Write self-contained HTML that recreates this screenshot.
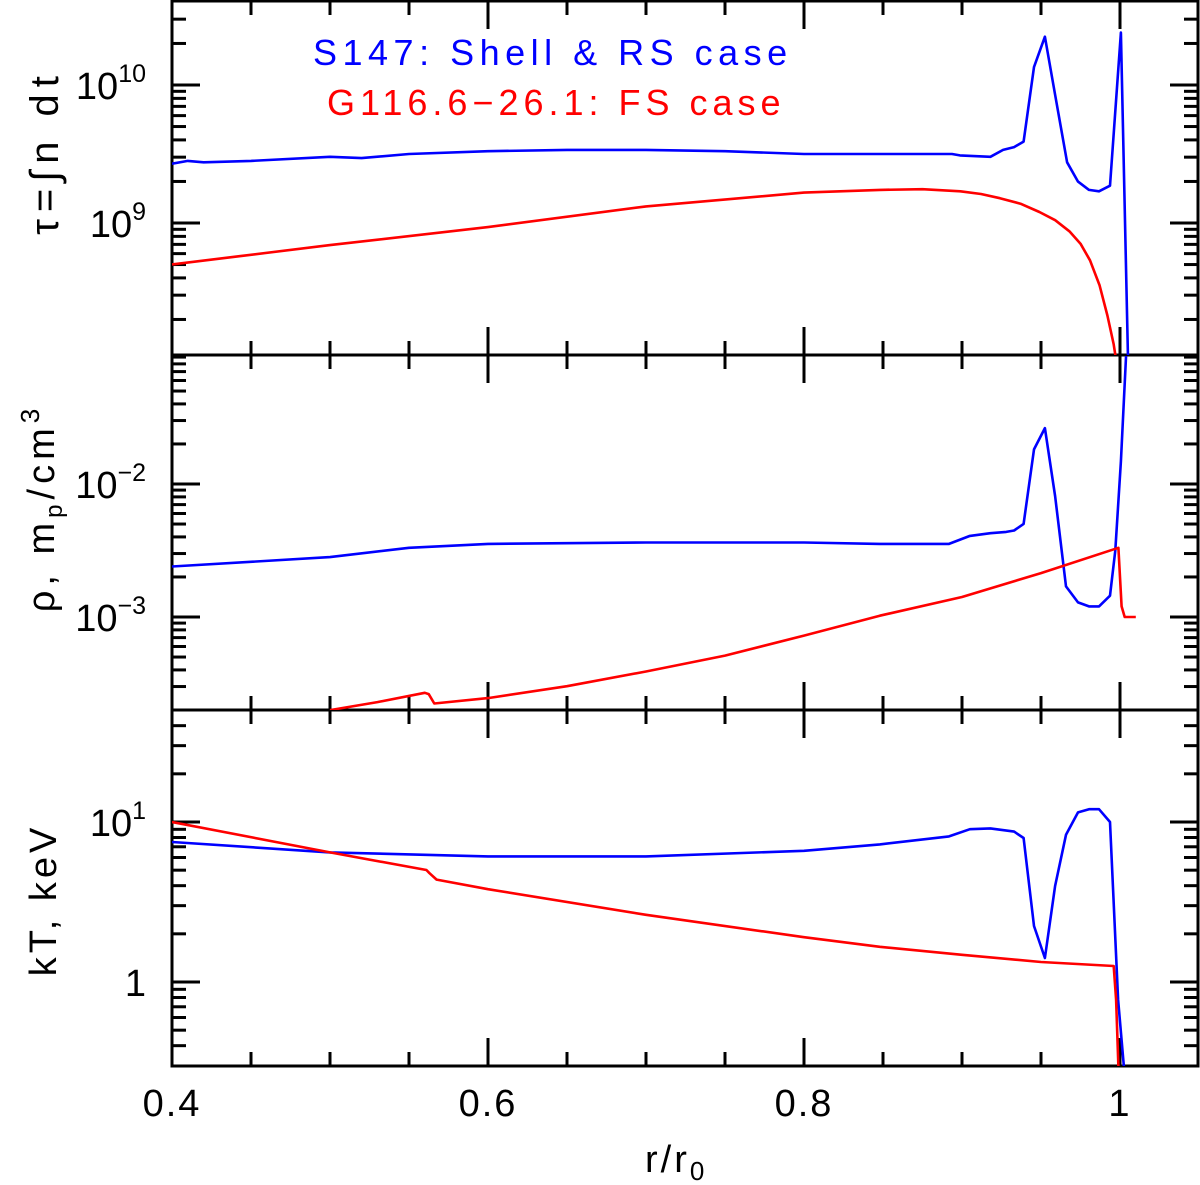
<!DOCTYPE html>
<html><head><meta charset="utf-8"><style>
body{margin:0;background:#fff}
svg{display:block;font-family:"Liberation Sans",sans-serif}
</style></head><body>
<svg id="chart" width="1200" height="1185" viewBox="0 0 1200 1185" xmlns="http://www.w3.org/2000/svg">
<defs>
<clipPath id="c0"><rect x="172" y="1" width="1026" height="354"/></clipPath>
<clipPath id="c1"><rect x="172" y="356" width="1026" height="354"/></clipPath>
<clipPath id="c2"><rect x="172" y="711" width="1026" height="355"/></clipPath>
</defs>
<g id="axes"></g>
<g id="series"></g>
<text x="313" y="65" font-size="36" fill="#0000ff" letter-spacing="5.5">S147: Shell &amp; RS case</text>
<text x="327" y="115" font-size="36" fill="#ff0000" letter-spacing="5">G116.6−26.1: FS case</text>
<text transform="translate(58,152) rotate(-90)" text-anchor="middle" font-size="40" letter-spacing="7">τ=∫n  dt</text>
<text transform="translate(54,508) rotate(-90)" text-anchor="middle" font-size="38" letter-spacing="5">ρ,  m<tspan font-size="24" dy="8">p</tspan><tspan dy="-8">/cm</tspan><tspan font-size="26" dy="-15">3</tspan></text>
<text transform="translate(56,900) rotate(-90)" text-anchor="middle" font-size="38" letter-spacing="4">kT,  keV</text>
<text x="645" y="1172" font-size="38" letter-spacing="3">r/r<tspan font-size="26" dy="8">0</tspan></text>
</svg>
<script>
const xTicksLabels = ["0.4","0.6","0.8","1"];
const xTickVals = [0.4,0.6,0.8,1.0];
// top panel: log10 tau
const tauBlueR = [0.4,0.41,0.42,0.45,0.5,0.52,0.55,0.6,0.65,0.7,0.75,0.8,0.85,0.8937,0.8987,0.918,0.926,0.933,0.939,0.9456,0.9525,0.9589,0.9665,0.9734,0.9804,0.9867,0.9937,1.0006,1.005,1.008];
const tauBlueV = [9.43,9.45,9.44,9.45,9.48,9.47,9.50,9.52,9.53,9.53,9.52,9.50,9.50,9.50,9.49,9.48,9.53,9.55,9.59,10.13,10.35,9.93,9.44,9.30,9.24,9.23,9.27,10.38,8.05,7.8];
const tauRedR = [0.4,0.5,0.6,0.7,0.8,0.848,0.875,0.899,0.912,0.924,0.937,0.949,0.959,0.968,0.975,0.981,0.987,0.992,0.996,0.999];
const tauRedV = [8.70,8.84,8.97,9.12,9.22,9.24,9.245,9.23,9.21,9.18,9.14,9.08,9.02,8.94,8.85,8.73,8.55,8.33,8.12,7.9];
// middle panel: log10 density
const rhoBlueR = [0.4,0.5,0.55,0.6,0.7,0.8,0.848,0.8918,0.905,0.918,0.928,0.933,0.939,0.9456,0.9525,0.9589,0.9658,0.9734,0.9804,0.9867,0.9937,0.997,1.0006,1.004];
const rhoBlueV = [-2.62,-2.55,-2.48,-2.45,-2.44,-2.44,-2.45,-2.45,-2.39,-2.37,-2.36,-2.35,-2.30,-1.74,-1.58,-2.09,-2.77,-2.89,-2.92,-2.92,-2.84,-2.50,-1.83,-1.0];
const rhoRedR = [0.5,0.53,0.56,0.5625,0.566,0.6,0.65,0.7,0.75,0.8,0.848,0.9,0.95,0.999,1.001,1.003,1.01];
const rhoRedV = [-3.70,-3.64,-3.57,-3.58,-3.65,-3.61,-3.52,-3.41,-3.29,-3.14,-2.99,-2.85,-2.67,-2.48,-2.92,-3.0,-3.0];
// bottom panel: log10 kT
const ktBlueR = [0.4,0.5,0.6,0.7,0.8,0.848,0.8918,0.905,0.918,0.933,0.939,0.9456,0.9525,0.9589,0.9658,0.9734,0.9804,0.9867,0.9937,0.9988,1.0025];
const ktBlueV = [0.875,0.81,0.785,0.785,0.82,0.86,0.91,0.955,0.96,0.94,0.90,0.35,0.15,0.60,0.92,1.06,1.08,1.08,1.0,-0.11,-0.53];
const ktRedR = [0.4,0.5,0.561,0.563,0.5675,0.6,0.7,0.8,0.848,0.9,0.95,0.996,0.9975,0.999];
const ktRedV = [1.0,0.81,0.70,0.68,0.64,0.58,0.42,0.28,0.22,0.17,0.125,0.10,-0.11,-0.53];

const NS="http://www.w3.org/2000/svg";
const X0=172, X1=1198;
function xs(r){return X0+(r-0.4)*1580;}
const panels=[
 {top:1,bot:355,ref:10,refY:85,ppd:138,lo:7,hi:11,labels:[[10,"10","10"],[9,"10","9"]],clip:"c0",name:"tau"},
 {top:355,bot:710,ref:-2,refY:484,ppd:133,lo:-4,hi:-1,labels:[[-2,"10","−2"],[-3,"10","−3"]],clip:"c1",name:"density"},
 {top:710,bot:1066,ref:1,refY:822,ppd:160,lo:-1,hi:2,labels:[[1,"10","1"],[0,"1",""]],clip:"c2",name:"kt"}
];
function ys(p,v){return p.refY-(v-p.ref)*p.ppd;}
const axes=document.getElementById('axes');
function line(x1,y1,x2,y2,name){
 const l=document.createElementNS(NS,'line');
 l.setAttribute('x1',x1);l.setAttribute('y1',y1);l.setAttribute('x2',x2);l.setAttribute('y2',y2);
 l.setAttribute('stroke','#000');l.setAttribute('stroke-width','3');
 
 
 axes.appendChild(l);
}
panels.forEach((p,pi)=>{
 const fr=document.createElementNS(NS,'rect');
 fr.setAttribute('x',X0);fr.setAttribute('y',p.top);fr.setAttribute('width',X1-X0);fr.setAttribute('height',p.bot-p.top);
 fr.setAttribute('fill','none');fr.setAttribute('stroke','#000');fr.setAttribute('stroke-width','3');
 
 
 axes.appendChild(fr);
 for(let k=0;k<=13;k++){
  const r=0.4+k*0.05; const x=xs(r); if(x>X1-2) break;
  const major=(k%4===0);
  const len=major?28:14;
  line(x,p.bot,x,p.bot-len,'x-tick');
  line(x,p.top,x,p.top+len,'x-tick');
 }
 for(let d=p.lo; d<p.hi; d++){
  for(let m=1;m<=9;m++){
   const v=d+Math.log10(m); const y=ys(p,v);
   if(y<p.top+1||y>p.bot-1) continue;
   const len=m===1?28:14;
   line(X0,y,X0+len,y,'y-tick');
   line(X1,y,X1-len,y,'y-tick');
  }
 }
 p.labels.forEach(([v,b,e])=>{
  const t=document.createElementNS(NS,'text');
  t.setAttribute('x',146);t.setAttribute('y',ys(p,v)+14);t.setAttribute('text-anchor','end');t.setAttribute('font-size','38');
  t.textContent=b;
  if(e){const s=document.createElementNS(NS,'tspan');s.setAttribute('font-size','25');s.setAttribute('dy','-17');s.textContent=e;t.appendChild(s);}
  
  
  document.getElementById('chart').appendChild(t);
 });
});
xTickVals.forEach((v,i)=>{
 const t=document.createElementNS(NS,'text');
 t.setAttribute('x',xs(v));t.setAttribute('y',1116);t.setAttribute('text-anchor','middle');t.setAttribute('font-size','38');t.setAttribute('letter-spacing','2');
 t.textContent=xTicksLabels[i];
 
 
 document.getElementById('chart').appendChild(t);
});
const ser=document.getElementById('series');
function drawLine(R,V,p,color,name){
 const pl=document.createElementNS(NS,'polyline');
 pl.setAttribute('points',R.map((r,i)=>xs(r).toFixed(1)+','+ys(p,V[i]).toFixed(1)).join(' '));
 pl.setAttribute('fill','none');pl.setAttribute('stroke',color);pl.setAttribute('stroke-width','2.6');
 pl.setAttribute('stroke-linejoin','round');
 pl.setAttribute('clip-path','url(#'+p.clip+')');
 
 
 ser.appendChild(pl);
}
drawLine(tauBlueR,tauBlueV,panels[0],'#0000ff','tau-s147-line');
drawLine(tauRedR,tauRedV,panels[0],'#ff0000','tau-g116-line');
drawLine(rhoBlueR,rhoBlueV,panels[1],'#0000ff','density-s147-line');
drawLine(rhoRedR,rhoRedV,panels[1],'#ff0000','density-g116-line');
drawLine(ktBlueR,ktBlueV,panels[2],'#0000ff','kt-s147-line');
drawLine(ktRedR,ktRedV,panels[2],'#ff0000','kt-g116-line');
</script>
</body></html>
